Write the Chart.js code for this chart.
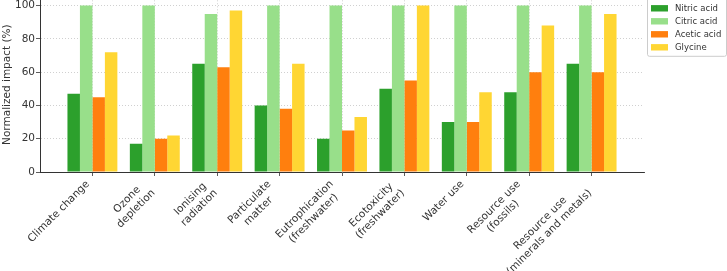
<!DOCTYPE html>
<html>
<head>
<meta charset="utf-8">
<script src="https://cdn.jsdelivr.net/npm/chart.js@4.4.1/dist/chart.umd.min.js"></script>
<style>
body{margin:0;background:#fff;}
#wrap{width:727px;height:271px;position:relative;overflow:hidden;}
#inner{position:absolute;left:0;top:-10px;width:727px;height:281px;}
</style>
</head>
<body>
<div id="wrap"><div id="inner"><canvas id="impact"></canvas></div></div>
<script>
const categories = [
    ['Climate change'],
    ['Ozone','depletion'],
    ['Ionising','radiation'],
    ['Particulate','matter'],
    ['Eutrophication','(freshwater)'],
    ['Ecotoxicity','(freshwater)'],
    ['Water use'],
    ['Resource use','(fossils)'],
    ['Resource use','(minerals and metals)']
];
const nitric  = [47, 17, 65, 40, 20, 50, 30, 48, 65];
const citric  = [100, 100, 95, 100, 100, 100, 100, 100, 100];
const acetic  = [45, 20, 63, 38, 25, 55, 30, 60, 60];
const glycine = [72, 22, 97, 65, 33, 100, 48, 88, 95];
const yTicks  = [0, 20, 40, 60, 80, 100];

const FONT = '"DejaVu Sans", sans-serif';
const TXT = '#333333';
const GRID = 'rgba(170,170,170,0.7)';

function series(label, vals, color){
    return {
        label: label,
        data: vals.map((v,i) => ({x: i, y: v})),
        backgroundColor: color,
        borderWidth: 0,
        barPercentage: 1,
        categoryPercentage: 0.8
    };
}

// rotated category labels, block anchored near its top-right corner like matplotlib (ha=right, rotation=45)
const xLabels = {
    id: 'xLabels',
    afterDraw(chart){
        const {ctx} = chart;
        const xs = chart.scales.x;
        const size = 10.5, lh = size * 1.2;
        const a = Math.PI / 4;
        ctx.save();
        ctx.font = size + 'px ' + FONT;
        ctx.fillStyle = TXT;
        ctx.textAlign = 'center';
        ctx.textBaseline = 'middle';
        categories.forEach((lines, i) => {
            const w = Math.max(...lines.map(l => ctx.measureText(l).width));
            const h = lh + (lines.length - 1) * lh * 0.65;
            const px = xs.getPixelForValue(i);
            ctx.save();
            ctx.translate(px - h * Math.sin(a), xs.top + 6);
            ctx.rotate(-a);
            lines.forEach((l, k) => ctx.fillText(l, -w / 2, k * lh + lh / 2));
            ctx.restore();
        });
        ctx.restore();
    }
};

const legendBox = {
    id: 'legendBox',
    afterDraw(chart){
        const {ctx, chartArea} = chart;
        const left = chartArea.right + 3, right = left + 79;
        const top = chartArea.top - 0.5;
        ctx.save();
        ctx.fillStyle = 'rgba(255,255,255,0.8)';
        ctx.strokeStyle = '#cccccc';
        ctx.lineWidth = 1;
        ctx.beginPath();
        ctx.roundRect(left + 0.5, top, right - left, 59.5, 2);
        ctx.fill();
        ctx.stroke();
        ctx.font = '8.5px ' + FONT;
        ctx.textBaseline = 'middle';
        chart.data.datasets.forEach((ds, i) => {
            const y = top + 11.5 + i * 13;
            ctx.fillStyle = ds.backgroundColor;
            ctx.fillRect(left + 4, y - 3.2, 17, 6.4);
            ctx.fillStyle = TXT;
            ctx.fillText(ds.label, left + 28, y);
        });
        ctx.restore();
    }
};

const ctx = document.getElementById('impact').getContext('2d');
const impactChart = new Chart(ctx, {
    type: 'bar',
    data: {
        datasets: [
            series('Nitric acid', nitric, '#2ca02c'),
            series('Citric acid', citric, '#98df8a'),
            series('Acetic acid', acetic, '#ff7f0e'),
            series('Glycine', glycine, '#ffd633')
        ]
    },
    options: {
        responsive: true,
        maintainAspectRatio: false,
        animation: false,
        layout: {padding: {left: 0, right: 83, top: 0, bottom: 0}},
        plugins: {legend: {display: false}, tooltip: {enabled: false}},
        scales: {
            x: {
                type: 'linear',
                min: -0.84,
                max: 8.84,
                offset: false,
                afterBuildTicks: s => { s.ticks = categories.map((c,i) => ({value: i})); },
                afterFit: s => { s.height = 99; },
                ticks: {display: false},
                grid: {offset: false, color: GRID, lineWidth: 0.8, tickColor: TXT, tickLength: 4, tickWidth: 0.8},
                border: {display: true, color: TXT, width: 1, dash: [1, 2]}
            },
            y: {
                min: 0,
                max: 105,
                afterBuildTicks: s => { s.ticks = yTicks.map(v => ({value: v})); },
                afterFit: s => { s.width = 40; },
                title: {display: true, text: 'Normalized impact (%)', color: TXT, font: {family: FONT, size: 10.5}, padding: {top: 1, bottom: 0}},
                ticks: {color: TXT, font: {family: FONT, size: 10.5}, padding: 1},
                grid: {color: GRID, lineWidth: 0.8, tickColor: TXT, tickLength: 4, tickWidth: 0.8},
                border: {display: true, color: TXT, width: 1, dash: [1, 2]}
            }
        }
    },
    plugins: [xLabels, legendBox]
});
</script>
</body>
</html>
